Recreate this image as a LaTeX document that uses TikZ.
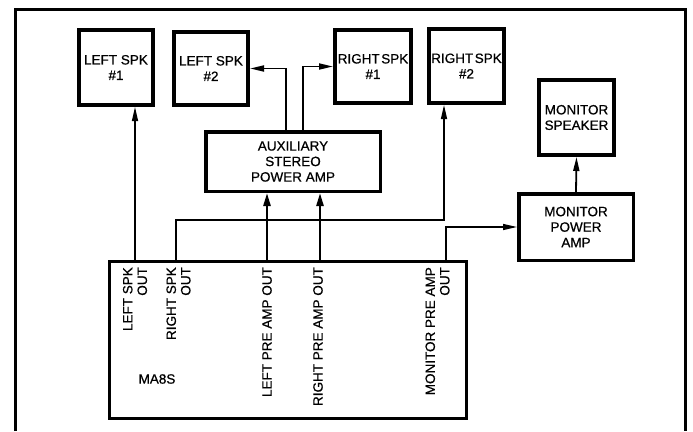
\documentclass[tikz,border=0pt]{standalone}
\usepackage{fontspec}
\setmainfont{Liberation Sans}[FakeBold=0.6]
\usetikzlibrary{arrows.meta}
\begin{document}
\begin{tikzpicture}[x=1pt,y=-1pt,
  every node/.style={font=\fontsize{13.5}{15.5}\selectfont},
  spk/.style={draw, line width=4pt, align=center, inner sep=0pt},
  amp/.style={draw, line width=3.5pt, align=center, inner sep=0pt},
  lbl/.style={rotate=90, anchor=east, align=right, inner sep=0pt, font=\fontsize{13.5}{14.5}\selectfont},
  wire/.style={line width=1.3pt, -{Triangle[length=14pt,width=6pt]}},
  mwire/.style={line width=1.8pt, -{Triangle[length=14pt,width=6pt]}},
  bwire/.style={line width=2.4pt, -{Triangle[length=13pt,width=7pt]}},
]
\useasboundingbox (0,0) rectangle (693,431);
\draw[line width=3pt] (15,431) -- (15,9) -- (685,9) -- (685,431);

\node[spk, minimum width=74pt, minimum height=75pt] (ls1) at (116,67.5) {LEFT SPK\\\#1};
\node[spk, minimum width=74pt, minimum height=73pt] (ls2) at (211,68.5) {LEFT SPK\\\#2};
\node[spk, minimum width=76pt, minimum height=73pt] (rs1) at (373,66.5) {RIGHT\kern1.5pt SPK\\\#1};
\node[spk, minimum width=75pt, minimum height=74pt] (rs2) at (466.5,66) {RIGHT\kern1.5pt SPK\\\#2};
\node[spk, minimum width=75pt, minimum height=75pt] (mspk) at (576.5,117.5) {MONITOR\\SPEAKER};
\node[amp, minimum width=114.5pt, minimum height=66.5pt] (mpa) at (576,227) {MONITOR\\POWER\\AMP};
\node[amp, minimum width=174.5pt, minimum height=59.5pt] (aux) at (293,161.5) {AUXILIARY\\STEREO\\POWER AMP};
\node[draw, line width=3pt, minimum width=357pt, minimum height=157pt, inner sep=0pt] (ma) at (288,340) {};

\node[lbl] (t1) at (135,267) {LEFT SPK\\OUT};
\node[lbl] (t2) at (178.5,267) {RIGHT SPK\\OUT};
\node[lbl] (t3) at (267,267) {LEFT PRE AMP OUT};
\node[lbl] (t4) at (318,267) {RIGHT PRE AMP OUT};
\node[lbl] (t5) at (437.5,267) {MONITOR PRE AMP\\OUT};
\node (t6) at (157,379) {MA8S};

\coordinate (lso) at (135,260);
\coordinate (rso) at (176,260);
\coordinate (rsk) at (444,220);
\coordinate (lpo) at (267,260);
\coordinate (rpo) at (320,260);
\coordinate (axl) at (286,130);
\coordinate (axr) at (303,130);
\coordinate (mpo) at (446,260);

\draw[wire] (lso) -- (lso |- ls1.south);
\draw[wire] (rso) |- (rsk) -- (rsk |- rs2.south);
\draw[bwire] (lpo) -- (lpo |- aux.south);
\draw[bwire] (rpo) -- (rpo |- aux.south);
\draw[mwire] (axl) |- (ls2.east);
\draw[mwire] (axr) |- (rs1.west);
\draw[wire] (mpo) |- (mpa.west);
\draw[mwire] (mpa.north) -- (mspk.south);
\end{tikzpicture}
\end{document}
